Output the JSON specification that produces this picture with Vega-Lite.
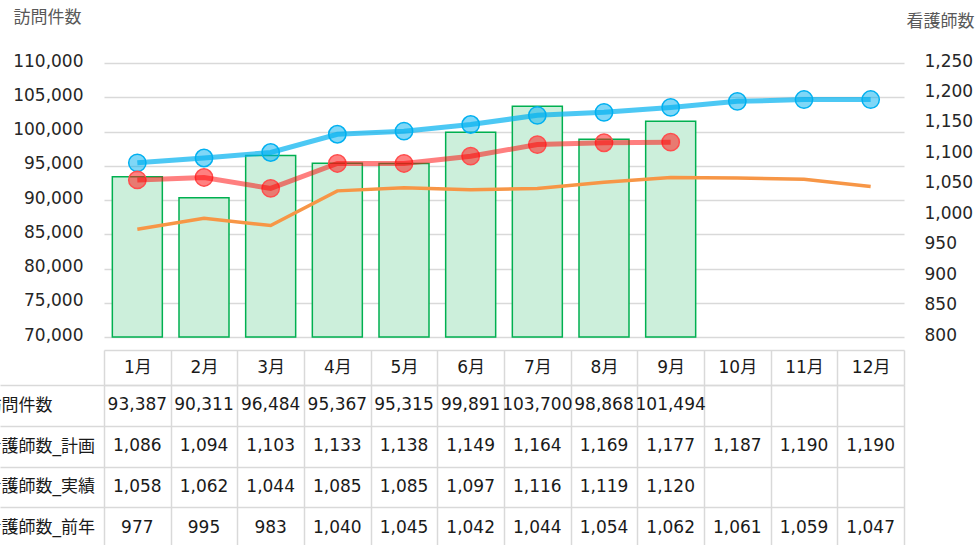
{
  "$schema": "https://vega.github.io/schema/vega-lite/v6.json",
  "autosize": {"type": "none"},
  "padding": {"left": 104, "top": 63, "right": 875, "bottom": 482},
  "background": "white",
  "bounds": "flush",
  "spacing": 48,
  "config": {
    "font": "DejaVu Sans, Noto Sans CJK JP",
    "view": {"stroke": null}
  },
  "data": {
    "values": [
      {"month": "1月", "訪問件数": 93387, "看護師数_計画": 1086, "看護師数_実績": 1058, "看護師数_前年": 977},
      {"month": "2月", "訪問件数": 90311, "看護師数_計画": 1094, "看護師数_実績": 1062, "看護師数_前年": 995},
      {"month": "3月", "訪問件数": 96484, "看護師数_計画": 1103, "看護師数_実績": 1044, "看護師数_前年": 983},
      {"month": "4月", "訪問件数": 95367, "看護師数_計画": 1133, "看護師数_実績": 1085, "看護師数_前年": 1040},
      {"month": "5月", "訪問件数": 95315, "看護師数_計画": 1138, "看護師数_実績": 1085, "看護師数_前年": 1045},
      {"month": "6月", "訪問件数": 99891, "看護師数_計画": 1149, "看護師数_実績": 1097, "看護師数_前年": 1042},
      {"month": "7月", "訪問件数": 103700, "看護師数_計画": 1164, "看護師数_実績": 1116, "看護師数_前年": 1044},
      {"month": "8月", "訪問件数": 98868, "看護師数_計画": 1169, "看護師数_実績": 1119, "看護師数_前年": 1054},
      {"month": "9月", "訪問件数": 101494, "看護師数_計画": 1177, "看護師数_実績": 1120, "看護師数_前年": 1062},
      {"month": "10月", "訪問件数": null, "看護師数_計画": 1187, "看護師数_実績": null, "看護師数_前年": 1061},
      {"month": "11月", "訪問件数": null, "看護師数_計画": 1190, "看護師数_実績": null, "看護師数_前年": 1059},
      {"month": "12月", "訪問件数": null, "看護師数_計画": 1190, "看護師数_実績": null, "看護師数_前年": 1047}
    ]
  },
  "resolve": {"scale": {"x": "independent", "y": "independent"}},
  "vconcat": [
    {
      "width": 800,
      "height": 274,
      "resolve": {"scale": {"y": "independent"}},
      "layer": [
        {
          "transform": [{"filter": "isValid(datum['訪問件数'])"}],
          "mark": {"type": "bar", "fill": "#ccefdb", "stroke": "#00b050", "strokeWidth": 1.5},
          "encoding": {
            "x": {
              "field": "month", "type": "ordinal", "sort": null,
              "scale": {"domain": ["1月","2月","3月","4月","5月","6月","7月","8月","9月","10月","11月","12月"], "paddingInner": 0.25, "paddingOuter": 0.125},
              "axis": {"orient": "bottom", "offset": 13, "labels": false, "ticks": false, "domain": true, "domainColor": "#d9d9d9", "domainWidth": 1.5, "grid": false, "title": null}
            },
            "y": {
              "field": "訪問件数", "type": "quantitative",
              "scale": {"domain": [70000, 110000], "zero": false, "nice": false},
              "axis": {
                "orient": "left",
                "values": [70000, 75000, 80000, 85000, 90000, 95000, 100000, 105000, 110000],
                "format": ",.0f",
                "labelFontSize": 17, "labelColor": "#262626", "labelPadding": 21, "labelOffset": -2,
                "ticks": false, "tickSize": 0, "domain": false,
                "grid": true, "gridColor": "#d9d9d9", "gridWidth": 1.5,
                "title": "訪問件数", "titleAngle": 0, "titleX": -57, "titleY": -46,
                "titleAlign": "center", "titleBaseline": "middle",
                "titleFontSize": 17, "titleFontWeight": "normal", "titleColor": "#595959"
              }
            },
            "y2": {"datum": 70000}
          }
        },
        {
          "transform": [
            {"fold": ["看護師数_計画", "看護師数_実績", "看護師数_前年"], "as": ["series", "nurses"]},
            {"filter": "isValid(datum.nurses)"}
          ],
          "encoding": {
            "x": {"field": "month", "type": "ordinal", "sort": null},
            "y": {
              "field": "nurses", "type": "quantitative",
              "scale": {"domain": [800, 1250], "zero": false, "nice": false},
              "axis": {
                "orient": "right",
                "values": [800, 850, 900, 950, 1000, 1050, 1100, 1150, 1200, 1250],
                "format": ",.0f",
                "labelFontSize": 17, "labelColor": "#262626", "labelPadding": 20, "labelAlign": "left", "labelOffset": -2,
                "ticks": false, "tickSize": 0, "domain": false, "grid": false,
                "title": "看護師数", "titleAngle": 0, "titleX": 36, "titleY": -42,
                "titleAlign": "center", "titleBaseline": "middle",
                "titleFontSize": 17, "titleFontWeight": "normal", "titleColor": "#595959"
              }
            }
          },
          "layer": [
            {
              "transform": [{"filter": "datum.series == '看護師数_前年'"}],
              "mark": {"type": "line", "stroke": "#f79646", "strokeWidth": 3.5}
            },
            {
              "transform": [{"filter": "datum.series == '看護師数_計画'"}],
              "mark": {"type": "circle", "size": 300, "opacity": 1, "fill": "#00b0f0", "fillOpacity": 0.5, "stroke": "#00b0f0", "strokeWidth": 1.5}
            },
            {
              "transform": [{"filter": "datum.series == '看護師数_計画'"}],
              "mark": {"type": "line", "stroke": "#00b0f0", "strokeOpacity": 0.7, "strokeWidth": 5}
            },
            {
              "transform": [{"filter": "datum.series == '看護師数_実績'"}],
              "mark": {"type": "circle", "size": 300, "opacity": 1, "fill": "#ff1a1a", "fillOpacity": 0.55, "stroke": "#ff4d4d", "strokeWidth": 1.5}
            },
            {
              "transform": [{"filter": "datum.series == '看護師数_実績'"}],
              "mark": {"type": "line", "stroke": "#ff0000", "strokeOpacity": 0.5, "strokeWidth": 5}
            }
          ]
        }
      ]
    },
    {
      "width": 800,
      "height": 163,
      "transform": [
        {"fold": ["訪問件数", "看護師数_計画", "看護師数_実績", "看護師数_前年"], "as": ["row", "value"]},
        {"filter": "isValid(datum.value)"}
      ],
      "mark": {"type": "text", "fontSize": 17, "color": "#1a1a1a"},
      "encoding": {
        "x": {
          "field": "month", "type": "ordinal", "sort": null,
          "scale": {"domain": ["1月","2月","3月","4月","5月","6月","7月","8月","9月","10月","11月","12月"], "paddingInner": 0, "paddingOuter": 0},
          "axis": {
            "orient": "top", "tickBand": "extent",
            "ticks": true, "tickSize": 35, "tickColor": "#d9d9d9", "tickWidth": 1.5,
            "domain": true, "domainColor": "#d9d9d9", "domainWidth": 1.5,
            "grid": true, "gridColor": "#d9d9d9", "gridWidth": 1.5,
            "labelAngle": 0, "labelFontSize": 17, "labelColor": "#1a1a1a",
            "labelBaseline": "middle", "labelPadding": -17.5, "title": null
          }
        },
        "y": {
          "field": "row", "type": "nominal",
          "scale": {"domain": ["訪問件数", "看護師数_計画", "看護師数_実績", "看護師数_前年"], "paddingInner": 0, "paddingOuter": 0},
          "axis": {
            "orient": "left", "tickBand": "extent",
            "ticks": true, "tickSize": 104, "tickColor": "#d9d9d9", "tickWidth": 1.5,
            "domain": false,
            "grid": true, "gridColor": "#d9d9d9", "gridWidth": 1.5,
            "labelAlign": "left", "labelBaseline": "middle", "labelPadding": 16,
            "labelFontSize": 17, "labelColor": "#1a1a1a", "labelLimit": 0,
            "title": null
          }
        },
        "text": {"field": "value", "type": "quantitative", "format": ","}
      }
    }
  ]
}
